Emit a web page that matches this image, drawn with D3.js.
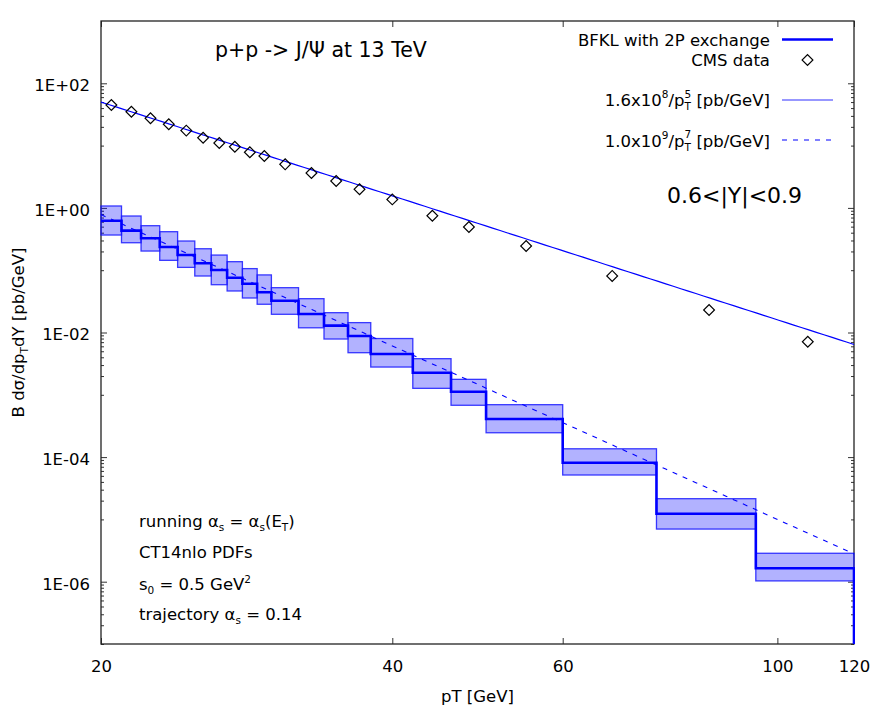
<!DOCTYPE html>
<html><head><meta charset="utf-8">
<script src="https://cdn.jsdelivr.net/npm/d3@7"></script>
<style>body{margin:0;background:#fff}</style>
</head><body><svg id="c" width="886" height="709"></svg>
<script>
// ---------------- DATA ----------------
const binEdges = [20,21,22,23,24,25,26,27,28,29,30,32,34,36,38,42,46,50,60,75,95,120];
const bfklUpper   = [1.073,0.741,0.518,0.415,0.294,0.221,0.175,0.137,0.106,0.084,0.0524,0.0349,0.0208,0.0144,0.0080,0.0038,0.00177,0.000694,1.36e-4,2.15e-5,2.86e-6];
const bfklCentral = [0.623,0.431,0.325,0.236,0.175,0.129,0.101,0.0758,0.0607,0.0442,0.0324,0.0198,0.0129,0.0088,0.00452,0.00226,0.00112,0.000409,8.13e-5,1.23e-5,1.64e-6];
const bfklLower   = [0.367,0.276,0.203,0.144,0.111,0.0807,0.0585,0.0464,0.0358,0.0284,0.0196,0.0119,0.00786,0.00474,0.00279,0.00127,0.000679,0.000246,5.16e-5,7.0e-6,1.03e-6];
const cmsPt    = [20.5,21.5,22.5,23.5,24.5,25.5,26.5,27.5,28.5,29.5,31,33,35,37,40,44,48,55,67.5,85,107.5];
const cmsValue = [44.8,35.0,27.4,22.0,17.4,13.4,11.0,9.6,7.8,6.8,5.0,3.63,2.70,1.99,1.37,0.75,0.494,0.245,0.081,0.023,0.0071];
const powerLawA = {norm:1.6e8, power:5};
const powerLawB = {norm:1.0e9, power:7};
const xTickValues = [20,40,60,100,120];
const xTickLabels = ["20","40","60","100","120"];
const yTickValues = [1e-6,1e-4,1e-2,1,1e2];
const yTickLabels = ["1E-06","1E-04","1E-02","1E+00","1E+02"];
const xDomain = [20,120];
const yDomain = [1e-7,1e3];

// ---------------- SETUP ----------------
const W=886,H=709;
const M={left:101,right:854,top:21,bottom:644};
const font = "DejaVu Sans, Verdana, sans-serif";
const FS = 16.5, SFS = 10.5;
const svg = d3.select("#c");
svg.append("rect").attr("width",W).attr("height",H).attr("fill","#fff");
const x = d3.scaleLog().domain(xDomain).range([M.left,M.right]);
const y = d3.scaleLog().domain(yDomain).range([M.bottom,M.top]);

svg.append("defs").append("clipPath").attr("id","clip").append("rect")
  .attr("x",M.left-1).attr("y",M.top-1).attr("width",M.right-M.left+2).attr("height",M.bottom-M.top+2);

// ---------------- AXES ----------------
const yMinor = yTickValues.flatMap(v => d3.range(1,10).map(m => m*v/10));
function styleAxis(sel){
  sel.select(".domain").remove();
  sel.selectAll(".tick line").attr("stroke","#333").attr("stroke-width",1);
  sel.selectAll(".tick text").attr("fill","#000").style("font-family",font).style("font-size",FS+"px");
}
svg.append("g").attr("transform",`translate(${M.left},0)`)
  .call(d3.axisLeft(y).tickValues(yTickValues).tickFormat((d,i)=>yTickLabels[i]).tickSize(-6).tickPadding(11))
  .call(styleAxis).selectAll(".tick text").attr("dy","0.45em");
svg.append("g").attr("transform",`translate(${M.left},0)`)
  .call(d3.axisLeft(y).tickValues(yMinor).tickFormat("").tickSize(-3)).call(styleAxis);
svg.append("g").attr("transform",`translate(${M.right},0)`)
  .call(d3.axisRight(y).tickValues(yTickValues).tickFormat("").tickSize(-6)).call(styleAxis);
svg.append("g").attr("transform",`translate(${M.right},0)`)
  .call(d3.axisRight(y).tickValues(yMinor).tickFormat("").tickSize(-3)).call(styleAxis);
svg.append("g").attr("transform",`translate(0,${M.bottom})`)
  .call(d3.axisBottom(x).tickValues(xTickValues).tickFormat((d,i)=>xTickLabels[i]).tickSize(-6).tickPadding(16))
  .call(styleAxis);
svg.append("g").attr("transform",`translate(0,${M.top})`)
  .call(d3.axisTop(x).tickValues(xTickValues).tickFormat("").tickSize(-6)).call(styleAxis);

svg.append("rect").attr("x",M.left).attr("y",M.top).attr("width",M.right-M.left).attr("height",M.bottom-M.top)
  .attr("fill","none").attr("stroke","#222").attr("stroke-width",1.3);

// ---------------- DATA MARKS ----------------
const g = svg.append("g").attr("clip-path","url(#clip)");
const bins = bfklCentral.map((c,i)=>({x0:binEdges[i],x1:binEdges[i+1],lo:bfklLower[i],hi:bfklUpper[i],c}));
g.selectAll("rect.band").data(bins).join("rect").attr("class","band")
  .attr("x",d=>x(d.x0)).attr("width",d=>x(d.x1)-x(d.x0))
  .attr("y",d=>y(d.hi)).attr("height",d=>y(d.lo)-y(d.hi))
  .attr("fill","#0000ff").attr("fill-opacity",0.3)
  .attr("stroke","#1a1aff").attr("stroke-opacity",0.85).attr("stroke-width",1.3);

const pGrid = d3.range(0,101).map(i => xDomain[0]*Math.pow(xDomain[1]/xDomain[0], i/100));
const lineGen = d3.line().x(d=>x(d[0])).y(d=>y(d[1]));
g.append("path").datum(pGrid.map(p=>[p, powerLawB.norm/Math.pow(p,powerLawB.power)]))
  .attr("d",lineGen).attr("fill","none").attr("stroke","#0000ff").attr("stroke-width",1.1).attr("stroke-dasharray","5,6");
g.append("path").datum(pGrid.map(p=>[p, powerLawA.norm/Math.pow(p,powerLawA.power)]))
  .attr("d",lineGen).attr("fill","none").attr("stroke","#0000ff").attr("stroke-width",1.2);

// central step line
const stepPts = [];
bins.forEach(b => { stepPts.push([x(b.x0), y(b.c)]); stepPts.push([x(b.x1), y(b.c)]); });
stepPts.push([x(binEdges[binEdges.length-1]), M.bottom]);
g.append("path").attr("d", d3.line()(stepPts)).attr("fill","none").attr("stroke","#0000ff").attr("stroke-width",2.6);

// CMS diamonds
const diamond = d3.symbol().type(d3.symbolSquare).size(58);
g.selectAll("path.cms").data(cmsPt.map((p,i)=>[p,cmsValue[i]])).join("path").attr("class","cms")
  .attr("d",diamond).attr("transform",d=>`translate(${x(d[0])},${y(d[1])}) rotate(45)`)
  .attr("fill","none").attr("stroke","#000").attr("stroke-width",1.2);

// ---------------- TEXT ----------------
function txt(xp,yp,size,anchor){
  return svg.append("text").attr("x",xp).attr("y",yp).attr("text-anchor",anchor||"start")
    .style("font-family",font).style("font-size",size+"px").attr("fill","#000");
}
txt(215,57,20.5).text("p+p -> J/Ψ at 13 TeV");
txt(667,203,22).text("0.6<|Y|<0.9");

// legend
const lx0 = 782, lx1 = 833, ltx = 770;
txt(ltx,46,FS,"end").text("BFKL with 2P exchange");
svg.append("line").attr("x1",lx0).attr("x2",lx1).attr("y1",39.5).attr("y2",39.5).attr("stroke","#0000ff").attr("stroke-width",2.6);
txt(ltx,66,FS,"end").text("CMS data");
svg.append("path").attr("d",diamond).attr("transform",`translate(${(lx0+lx1)/2},60) rotate(45)`)
  .attr("fill","none").attr("stroke","#000").attr("stroke-width",1.2);

function powerLegend(yb, norm, exp10, pw){
  // main text with subscript T, then superscript power placed above it
  const t = txt(ltx,yb,FS,"end");
  t.append("tspan").text(norm+"x10");
  t.append("tspan").attr("dy",-8).style("font-size",SFS+"px").text(exp10);
  t.append("tspan").attr("dy",8).text("/p");
  t.append("tspan").attr("dy",4).style("font-size",SFS+"px").text("T");
  t.append("tspan").attr("dx",-6.4).attr("dy",-12.5).style("font-size",SFS+"px").text(pw);
  t.append("tspan").attr("dy",8.5).text(" [pb/GeV]");
}
powerLegend(106,"1.6","8","5");
svg.append("line").attr("x1",lx0).attr("x2",lx1).attr("y1",100).attr("y2",100).attr("stroke","#3030ff").attr("stroke-width",1.2);
powerLegend(146.5,"1.0","9","7");
svg.append("line").attr("x1",lx0).attr("x2",lx1).attr("y1",140).attr("y2",140).attr("stroke","#0000ff").attr("stroke-width",1.1).attr("stroke-dasharray","5,6");

// annotations
let t = txt(139,527,FS);
t.append("tspan").text("running α");
t.append("tspan").attr("dy",4).style("font-size",SFS+"px").text("s");
t.append("tspan").attr("dy",-4).text(" = α");
t.append("tspan").attr("dy",4).style("font-size",SFS+"px").text("s");
t.append("tspan").attr("dy",-4).text("(E");
t.append("tspan").attr("dy",4).style("font-size",SFS+"px").text("T");
t.append("tspan").attr("dy",-4).text(")");
txt(139,557.5,FS).text("CT14nlo PDFs");
t = txt(139,589.5,FS);
t.append("tspan").text("s");
t.append("tspan").attr("dy",4).style("font-size",SFS+"px").text("0");
t.append("tspan").attr("dy",-4).text(" = 0.5 GeV");
t.append("tspan").attr("dy",-7).style("font-size",SFS+"px").text("2");
t = txt(139,620,FS);
t.append("tspan").text("trajectory α");
t.append("tspan").attr("dy",4).style("font-size",SFS+"px").text("s");
t.append("tspan").attr("dy",-4).text(" = 0.14");

// axis titles
txt((M.left+M.right)/2,702,FS,"middle").text("pT [GeV]");
t = svg.append("text").attr("transform",`translate(24,${(M.top+M.bottom)/2}) rotate(-90)`)
  .attr("text-anchor","middle").style("font-family",font).style("font-size",FS+"px");
t.append("tspan").text("B dσ/dp");
t.append("tspan").attr("dy",4).style("font-size",SFS+"px").text("T");
t.append("tspan").attr("dy",-4).text("dY [pb/GeV]");
</script></body></html>
